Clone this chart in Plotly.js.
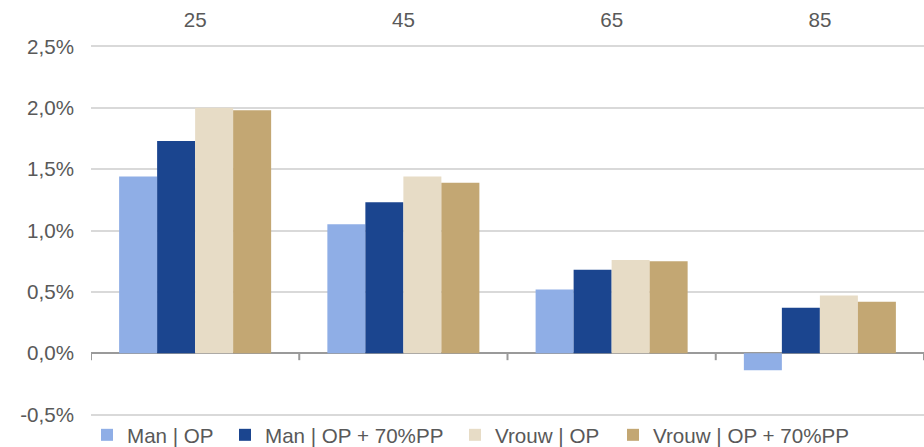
<!DOCTYPE html>
<html>
<head>
<meta charset="utf-8">
<script src="https://cdn.plot.ly/plotly-3.0.1.min.js"></script>
<style>html,body{margin:0;padding:0;background:#fff;}#chart{width:924px;height:447px;}</style>
</head>
<body>
<div id="chart"></div>
<script>
const categories = ['25', '45', '65', '85'];
const seriesNames = ['Man | OP', 'Man | OP + 70%PP', 'Vrouw | OP', 'Vrouw | OP + 70%PP'];
const manOP = [0.0144, 0.0105, 0.0052, -0.0014];
const manOPPP = [0.0173, 0.0123, 0.0068, 0.0037];
const vrouwOP = [0.0200, 0.0144, 0.0076, 0.0047];
const vrouwOPPP = [0.0198, 0.0139, 0.0075, 0.0042];
const colors = ['#8FAEE6', '#1B458F', '#E7DCC6', '#C3A773'];
const yTickVals = [-0.005, 0, 0.005, 0.01, 0.015, 0.02, 0.025];
const yTickText = ['-0,5%', '0,0%', '0,5%', '1,0%', '1,5%', '2,0%', '2,5%'];

const legendIds = ['legend', 'legend2', 'legend3', 'legend4'];
const seriesValues = [manOP, manOPPP, vrouwOP, vrouwOPPP];
const traces = seriesValues.map((vals, i) => ({
  type: 'bar',
  name: seriesNames[i],
  legend: legendIds[i],
  x: categories,
  y: vals,
  marker: {color: colors[i], line: {width: 0}},
  hoverinfo: 'skip'
}));

const font = {family: 'Liberation Sans, Arial, sans-serif', size: 20.6, color: '#595959'};
const axisGrey = '#9A9A9A';

// legend left edges in pixels, converted to plot-area fractions
const plotLeft = 91, plotWidth = 833;
const legendLeftPx = [87, 225, 455, 613];
function legendAt(px) {
  return {
    orientation: 'h',
    x: (px - plotLeft) / plotWidth,
    xanchor: 'left',
    yref: 'container',
    y: 0.027,
    yanchor: 'middle',
    font: font,
    bgcolor: 'rgba(0,0,0,0)'
  };
}

// small tick marks on the zero line at the category boundaries
const boundaryTicks = [];
for (let i = 0; i <= categories.length; i++) {
  boundaryTicks.push({
    type: 'line',
    xref: 'x',
    yref: 'y',
    x0: i - 0.5,
    x1: i - 0.5,
    ysizemode: 'pixel',
    yanchor: 0,
    y0: 0,
    y1: -7,
    line: {color: axisGrey, width: 2}
  });
}

const layout = {
  width: 924,
  height: 447,
  margin: {l: 91, r: 0, t: 45, b: 31, autoexpand: false},
  paper_bgcolor: '#ffffff',
  plot_bgcolor: '#ffffff',
  font: font,
  barmode: 'group',
  bargap: 0.27,
  bargroupgap: 0,
  showlegend: true,
  legend: legendAt(legendLeftPx[0]),
  legend2: legendAt(legendLeftPx[1]),
  legend3: legendAt(legendLeftPx[2]),
  legend4: legendAt(legendLeftPx[3]),
  shapes: boundaryTicks,
  xaxis: {
    type: 'category',
    categoryarray: categories,
    range: [-0.5, 3.5],
    side: 'top',
    showgrid: false,
    showline: false,
    zeroline: false,
    ticks: '',
    ticklabelstandoff: 13,
    tickfont: font
  },
  yaxis: {
    range: [-0.00512, 0.02512],
    tickvals: yTickVals,
    ticktext: yTickText,
    showgrid: true,
    gridcolor: '#D9D9D9',
    gridwidth: 2,
    zeroline: true,
    zerolinecolor: axisGrey,
    zerolinewidth: 2,
    showline: false,
    ticks: '',
    ticklabelstandoff: 16,
    tickfont: font
  }
};

Plotly.newPlot('chart', traces, layout, {displayModeBar: false, staticPlot: true});
</script>
</body>
</html>
